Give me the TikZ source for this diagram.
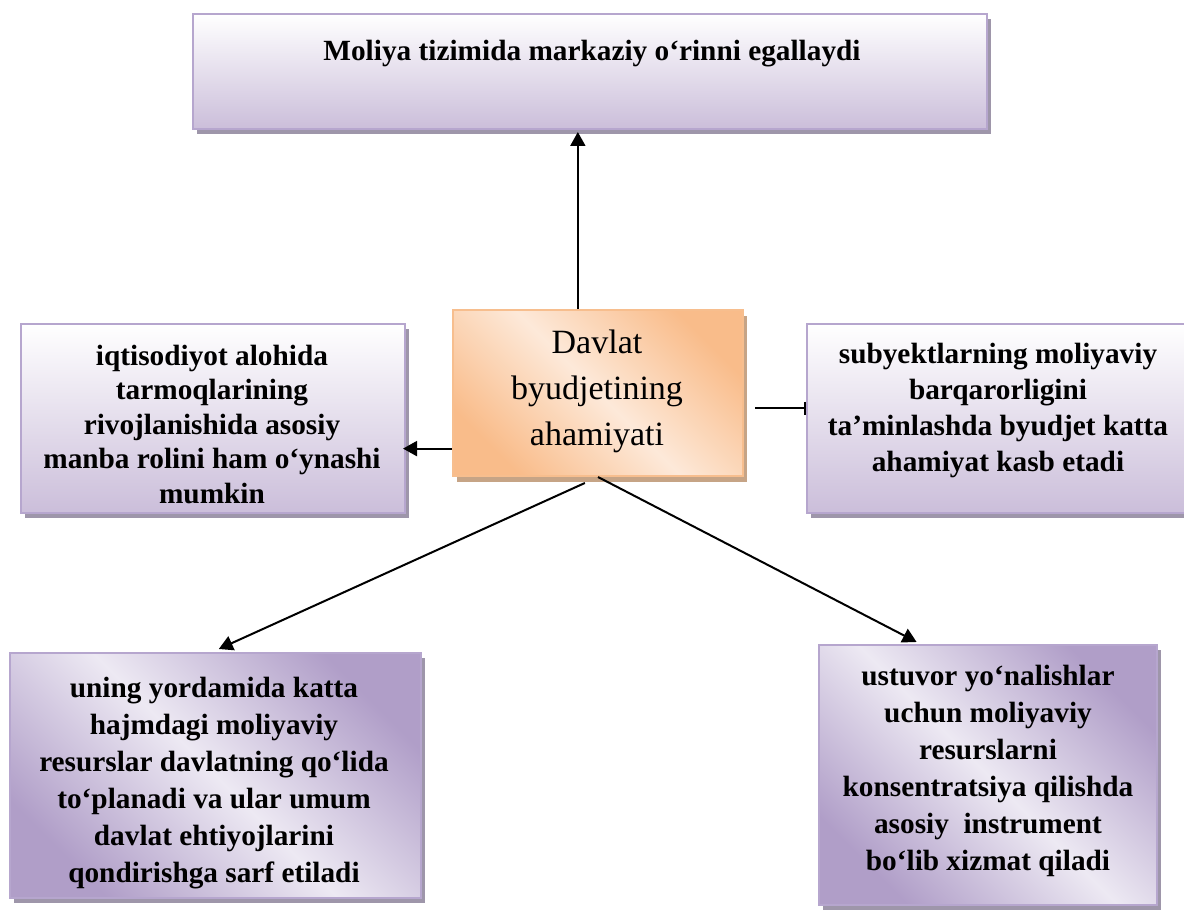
\documentclass[tikz,border=0pt]{standalone}
\usepackage{fontspec}
\setmainfont{Liberation Serif}
\usetikzlibrary{arrows.meta,shadows,calc}

\definecolor{lilacline}{RGB}{182,166,206}
\definecolor{lilacdark}{RGB}{176,158,200}
\definecolor{lilaclight}{RGB}{237,233,243}
\definecolor{lilacbottom}{RGB}{203,190,218}
\definecolor{boxshadow}{RGB}{158,150,170}
\definecolor{orangedark}{RGB}{249,188,138}
\definecolor{orangelight}{RGB}{253,233,217}
\definecolor{orangeline}{RGB}{247,190,142}
\definecolor{orangeshadow}{RGB}{198,164,134}

\tikzset{
  panel/.style={rectangle, draw=lilacline, line width=2pt, inner sep=0pt,
    drop shadow={shadow xshift=4pt, shadow yshift=-5pt, opacity=1, fill=boxshadow}},
  fadepanel/.style={panel, top color=white, bottom color=lilacbottom},
  diagpanel/.style={panel, shading=axis, top color=lilacdark,
    bottom color=lilacdark, middle color=lilaclight, shading angle=-45},
  hubbox/.style={rectangle, draw=orangeline, line width=2pt, inner sep=0pt,
    shading=axis, top color=orangedark, bottom color=orangedark,
    middle color=orangelight, shading angle=-45,
    drop shadow={shadow xshift=4pt, shadow yshift=-6pt, opacity=1, fill=orangeshadow}},
  % multi-line text nodes are placed by the baseline of their last line
  boldtext/.style={align=center, inner sep=0pt, anchor=base,
    font=\bfseries\fontsize{29.3}{#1}\selectfont},
  link/.style={line width=2pt, -{Triangle[width=15pt,length=14pt]}},
  barlink/.style={line width=2pt, -{Bar[width=13pt,line width=2pt]}},
}

\begin{document}
\begin{tikzpicture}[x=1pt,y=-1pt]
\fill[white] (0,0) rectangle (1184,912);
\useasboundingbox (0,0) rectangle (1184,912);

% panels
\node[fadepanel, minimum width=794pt, minimum height=115pt] (top) at (590,71.5) {};
\node[hubbox, minimum width=290pt, minimum height=166pt] (ctr) at (598,393) {};
\node[fadepanel, minimum width=384pt, minimum height=189pt] (lft) at (213,418.5) {};
\node[fadepanel, minimum width=379pt, minimum height=189pt] (rgt) at (996.5,418.5) {};
\node[diagpanel, minimum width=411pt, minimum height=245pt] (bl) at (215.5,775.5) {};
\node[diagpanel, minimum width=338pt, minimum height=260pt] (br) at (988,775) {};

% texts
\node[boldtext=35] (toptext) at (592,61) {Moliya tizimida markaziy o‘rinni egallaydi};
\node[align=center, inner sep=0pt, anchor=base, font=\fontsize{34}{46}\selectfont]
  (hubtext) at (597,445) {Davlat\\byudjetining\\ahamiyati};
\node[boldtext=34.5] (lfttext) at (212,503) {iqtisodiyot alohida\\tarmoqlarining\\rivojlanishida asosiy\\manba rolini ham o‘ynashi\\mumkin};
\node[boldtext=36] (rgttext) at (998,471) {subyektlarning moliyaviy\\barqarorligini\\ta’minlashda byudjet katta\\ahamiyat kasb etadi};
\node[boldtext=37] (bltext) at (214,882) {uning yordamida katta\\hajmdagi moliyaviy\\resurslar davlatning qo‘lida\\to‘planadi va ular umum\\davlat ehtiyojlarini\\qondirishga sarf etiladi};
\node[boldtext=37] (brtext) at (988,870) {ustuvor yo‘nalishlar\\uchun moliyaviy\\resurslarni\\konsentratsiya qilishda\\asosiy\ \ instrument\\bo‘lib xizmat qiladi};

% connectors
\draw[link] ($(ctr.north west)!0.431!(ctr.north east)$) coordinate (up) -- ([yshift=-2pt]up |- top.south);
\draw[link, shorten >=-3pt] ($(ctr.north west)!0.831!(ctr.south west)$) coordinate (lf) -- (lf -| lft.east);
\draw[barlink] ([xshift=11pt]$(ctr.north east)!0.59!(ctr.south east)$) coordinate (rt) -- (rt -| rgt.west);
\draw[link] ([yshift=-6pt]$(ctr.south west)!0.455!(ctr.south east)$) -- ([yshift=3pt]$(bl.north west)!0.508!(bl.north east)$);
\draw[link] ($(ctr.south west)!0.5!(ctr.south east)$) -- ([yshift=2pt]$(br.north west)!0.29!(br.north east)$);
\end{tikzpicture}
\end{document}
